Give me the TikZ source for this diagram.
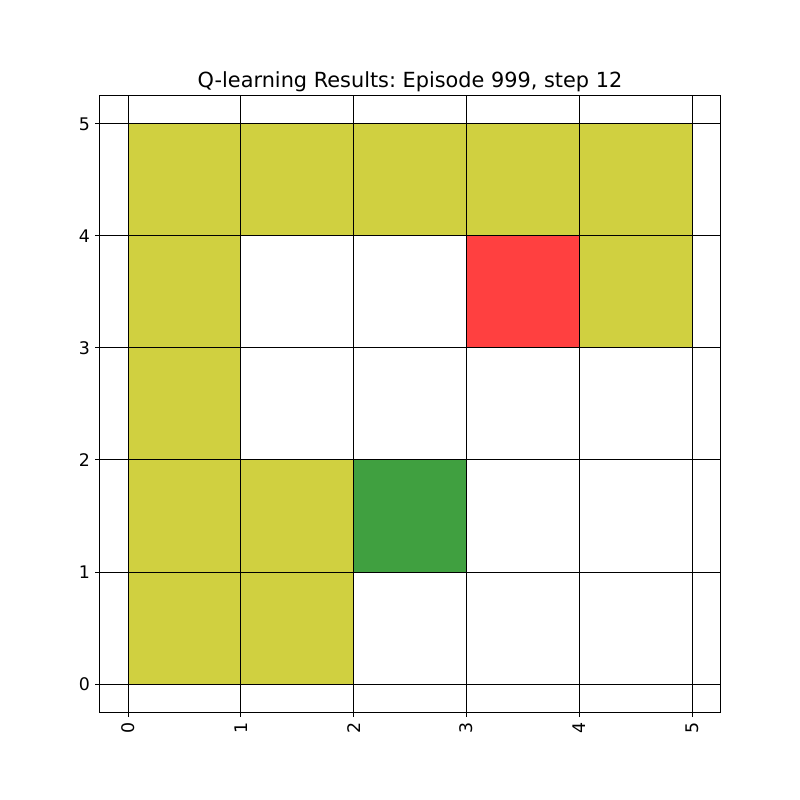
\documentclass[tikz,border=0pt]{standalone}
\usepackage{fontspec}
\setmainfont{DejaVu Sans}
\frenchspacing
\definecolor{pathcol}{HTML}{D0D040}
\definecolor{goalcol}{HTML}{FF4040}
\definecolor{startcol}{HTML}{40A040}

\begin{document}
\begin{tikzpicture}[
  x=81.216pt, y=80.64pt,
  cell/.style={draw=black, line width=0.7pt},
  gridline/.style={black, line width=0.7pt},
  ticks/.style={black, line width=0.7pt},
  ticklbl/.style={font=\fontsize{12.5}{14}\selectfont, inner sep=0pt},
  titlelbl/.style={font=\fontsize{15}{18}\selectfont, inner sep=0pt, anchor=base}
]
\useasboundingbox (-1.1348,-1.0357) rectangle (5.9574,6.1071);

% visited cells, goal and start
\foreach \cx/\cy in {0/4,1/4,2/4,3/4,4/4,0/3,4/3,0/2,0/1,1/1,0/0,1/0}
  \filldraw[cell, fill=pathcol] (\cx,\cy) rectangle ++(1,1);
\filldraw[cell, fill=goalcol] (3,3) rectangle ++(1,1);
\filldraw[cell, fill=startcol] (2,1) rectangle ++(1,1);

% grid
\foreach \k in {0,...,5} {
  \draw[gridline] (\k,-0.25) -- (\k,5.25);
  \draw[gridline] (-0.25,\k) -- (5.25,\k);
}

% axes frame
\draw[ticks] (-0.25,-0.25) rectangle (5.25,5.25);

% ticks and labels
\foreach \k in {0,...,5} {
  \coordinate (xt\k) at (\k,-0.25);
  \coordinate (yt\k) at (-0.25,\k);
  \draw[ticks] (xt\k) -- ++(0,-3.5pt);
  \draw[ticks] (yt\k) -- ++(-3.5pt,0);
  \node[ticklbl, rotate=90, anchor=east] (xl\k) at ([yshift=-7pt]xt\k) {\k};
  \node[ticklbl, anchor=east] (yl\k) at ([xshift=-7pt]yt\k) {\k};
}

\node[titlelbl] (title) at ([yshift=6pt]2.5,5.25) {Q-learning Results: Episode 999, step 12};

\end{tikzpicture}
\end{document}
